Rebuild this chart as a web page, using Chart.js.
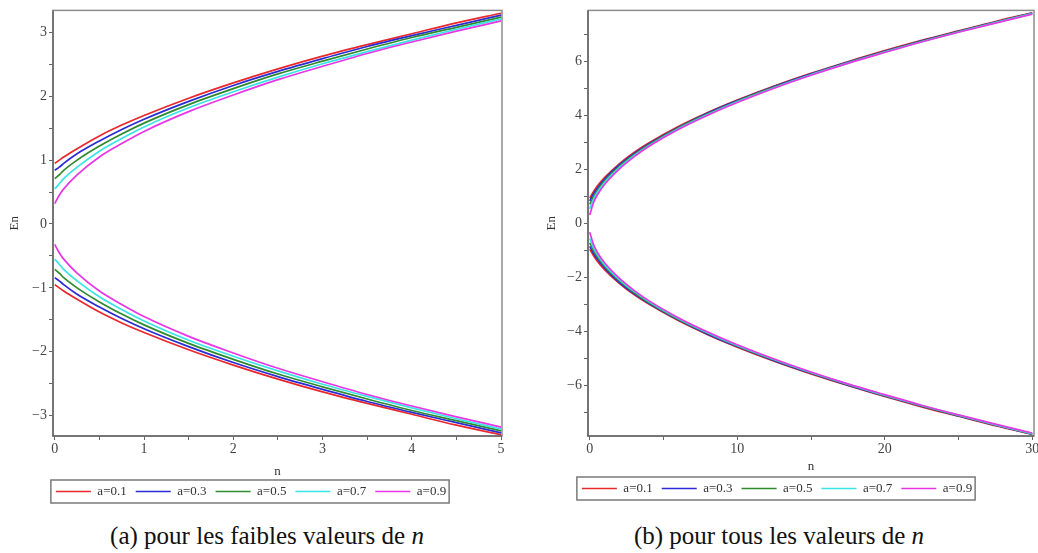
<!DOCTYPE html>
<html>
<head>
<meta charset="utf-8">
<title>En en fonction de n</title>
<script src="https://cdn.jsdelivr.net/npm/chart.js@4.4.1/dist/chart.umd.min.js"></script>
<style>
  html, body { margin: 0; padding: 0; background: #fff; overflow: hidden; }
  #page { position: relative; width: 1038px; height: 553px; overflow: hidden; }
  .panel { position: absolute; top: 0; }
  #boxA { left: 0; }
  #boxB { left: 520px; }
  .caption {
    position: absolute; top: 522px; transform: translateX(-50%);
    font-family: 'Liberation Serif', serif; font-size: 25px; color: #111; white-space: nowrap;
  }
  .caption i { font-style: italic; }
</style>
</head>
<body>
<div id="page">
  <div class="panel" id="boxA"><canvas id="chartA" width="520" height="512"></canvas></div>
  <div class="panel" id="boxB"><canvas id="chartB" width="530" height="512"></canvas></div>
  <div class="caption" style="left:267px">(a) pour les faibles valeurs de <i>n</i></div>
  <div class="caption" style="left:779px">(b) pour tous les valeurs de <i>n</i></div>
</div>
<script>
// legend entries and their colours
const aLabels = ['a=0.1', 'a=0.3', 'a=0.5', 'a=0.7', 'a=0.9'];
const lineColors = ['#e8282c', '#2b2bd6', '#2f8a2f', '#38e4e4', '#e636e6'];

// --- panel (a): small n ---
const nSmall = [0, 0.05, 0.1, 0.25, 0.5, 0.75, 1, 1.5, 2, 2.5, 3, 3.5, 4, 4.5, 5];
const smallUp01 = [0.95, 1.00, 1.05, 1.18, 1.38, 1.55, 1.70, 1.97, 2.21, 2.43, 2.63, 2.81, 2.98, 3.15, 3.30];
const smallUp03 = [0.84, 0.89, 0.95, 1.10, 1.30, 1.48, 1.64, 1.92, 2.17, 2.39, 2.59, 2.78, 2.95, 3.11, 3.27];
const smallUp05 = [0.71, 0.77, 0.84, 1.00, 1.22, 1.41, 1.58, 1.87, 2.12, 2.35, 2.55, 2.74, 2.92, 3.08, 3.24];
const smallUp07 = [0.55, 0.63, 0.71, 0.89, 1.14, 1.34, 1.52, 1.82, 2.07, 2.30, 2.51, 2.70, 2.88, 3.05, 3.21];
const smallUp09 = [0.32, 0.45, 0.55, 0.77, 1.05, 1.26, 1.45, 1.76, 2.02, 2.26, 2.47, 2.67, 2.85, 3.02, 3.18];
const smallLo01 = [-0.95, -1.00, -1.05, -1.18, -1.38, -1.55, -1.70, -1.97, -2.21, -2.43, -2.63, -2.81, -2.98, -3.15, -3.30];
const smallLo03 = [-0.84, -0.89, -0.95, -1.10, -1.30, -1.48, -1.64, -1.92, -2.17, -2.39, -2.59, -2.78, -2.95, -3.11, -3.27];
const smallLo05 = [-0.71, -0.77, -0.84, -1.00, -1.22, -1.41, -1.58, -1.87, -2.12, -2.35, -2.55, -2.74, -2.92, -3.08, -3.24];
const smallLo07 = [-0.55, -0.63, -0.71, -0.89, -1.14, -1.34, -1.52, -1.82, -2.07, -2.30, -2.51, -2.70, -2.88, -3.05, -3.21];
const smallLo09 = [-0.32, -0.45, -0.55, -0.77, -1.05, -1.26, -1.45, -1.76, -2.02, -2.26, -2.47, -2.67, -2.85, -3.02, -3.18];
const smallXTicks = [0, 0.5, 1, 1.5, 2, 2.5, 3, 3.5, 4, 4.5, 5];
const smallYTicks = [-3, -2.5, -2, -1.5, -1, -0.5, 0, 0.5, 1, 1.5, 2, 2.5, 3];

// --- panel (b): all n ---
const nAll = [0, 0.25, 0.5, 1, 2, 3, 4, 6, 8, 10, 12.5, 15, 17.5, 20, 22.5, 25, 27.5, 30];
const allUp01 = [0.95, 1.18, 1.38, 1.70, 2.21, 2.63, 2.98, 3.59, 4.11, 4.57, 5.09, 5.56, 5.99, 6.40, 6.78, 7.13, 7.48, 7.80];
const allUp03 = [0.84, 1.10, 1.30, 1.64, 2.17, 2.59, 2.95, 3.56, 4.09, 4.55, 5.07, 5.54, 5.98, 6.38, 6.76, 7.12, 7.46, 7.79];
const allUp05 = [0.71, 1.00, 1.22, 1.58, 2.12, 2.55, 2.92, 3.54, 4.06, 4.53, 5.05, 5.52, 5.96, 6.36, 6.75, 7.11, 7.45, 7.78];
const allUp07 = [0.55, 0.89, 1.14, 1.52, 2.07, 2.51, 2.88, 3.51, 4.04, 4.51, 5.03, 5.51, 5.94, 6.35, 6.73, 7.09, 7.44, 7.77];
const allUp09 = [0.32, 0.77, 1.05, 1.45, 2.02, 2.47, 2.85, 3.48, 4.01, 4.48, 5.01, 5.49, 5.93, 6.33, 6.72, 7.08, 7.42, 7.75];
const allLo01 = [-0.95, -1.18, -1.38, -1.70, -2.21, -2.63, -2.98, -3.59, -4.11, -4.57, -5.09, -5.56, -5.99, -6.40, -6.78, -7.13, -7.48, -7.80];
const allLo03 = [-0.84, -1.10, -1.30, -1.64, -2.17, -2.59, -2.95, -3.56, -4.09, -4.55, -5.07, -5.54, -5.98, -6.38, -6.76, -7.12, -7.46, -7.79];
const allLo05 = [-0.71, -1.00, -1.22, -1.58, -2.12, -2.55, -2.92, -3.54, -4.06, -4.53, -5.05, -5.52, -5.96, -6.36, -6.75, -7.11, -7.45, -7.78];
const allLo07 = [-0.55, -0.89, -1.14, -1.52, -2.07, -2.51, -2.88, -3.51, -4.04, -4.51, -5.03, -5.51, -5.94, -6.35, -6.73, -7.09, -7.44, -7.77];
const allLo09 = [-0.32, -0.77, -1.05, -1.45, -2.02, -2.47, -2.85, -3.48, -4.01, -4.48, -5.01, -5.49, -5.93, -6.33, -6.72, -7.08, -7.42, -7.75];
const allXTicks = [0, 5, 10, 15, 20, 25, 30];
const allYTicks = [-7, -6, -5, -4, -3, -2, -1, 0, 1, 2, 3, 4, 5, 6, 7];

const FONT = "'Liberation Serif', 'Times New Roman', serif";
const LINE_W = 1.7;

// box around the plot area, with darker left/bottom axes
const framePlugin = {
    id: 'frame',
    beforeDatasetsDraw(chart) {
        const { ctx, chartArea: a } = chart;
        ctx.save();
        ctx.lineWidth = 1.5;
        ctx.strokeStyle = '#8c8c8c';
        ctx.strokeRect(a.left, a.top, a.right - a.left, a.bottom - a.top);
        ctx.strokeStyle = '#666';
        ctx.beginPath();
        ctx.moveTo(a.left, a.top);
        ctx.lineTo(a.left, a.bottom);
        ctx.lineTo(a.right, a.bottom);
        ctx.stroke();
        ctx.restore();
    }
};

// rectangle around the legend items
const legendBoxPlugin = {
    id: 'legendBox',
    afterDraw(chart) {
        const boxes = chart.legend && chart.legend.legendHitBoxes;
        if (!boxes || !boxes.length) return;
        const left = Math.min(...boxes.map(b => b.left));
        const right = Math.max(...boxes.map(b => b.left + b.width));
        const top = Math.min(...boxes.map(b => b.top));
        const bottom = Math.max(...boxes.map(b => b.top + b.height));
        const ctx = chart.ctx;
        ctx.save();
        ctx.lineWidth = 1.5;
        ctx.strokeStyle = '#7a7a7a';
        ctx.strokeRect(left - 5, top - 5, right - left + 8, bottom - top + 10);
        ctx.restore();
    }
};

function tickFormatter(step) {
    return v => {
        if (Math.abs(v / step - Math.round(v / step)) > 1e-9) return '';
        return v < 0 ? '\u2212' + Math.abs(v) : String(v);
    };
}

function buildPanel(canvasId, p) {
    const datasets = [];
    const addBranch = (branch) => branch.forEach((vals, i) => {
        datasets.push({
            label: aLabels[i],
            data: p.n.map((x, k) => ({ x: x, y: vals[k] })),
            borderColor: lineColors[i],
            backgroundColor: lineColors[i],
            pointBorderColor: lineColors[i],
            pointBackgroundColor: lineColors[i],
            pointBorderWidth: LINE_W,
            order: 4 - i          // a=0.9 ends up drawn on top
        });
    });
    addBranch(p.upper);
    addBranch(p.lower);

    const tickFont = { family: FONT, size: 14 };

    return new Chart(document.getElementById(canvasId), {
        type: 'line',
        data: { datasets: datasets },
        options: {
            responsive: false,
            animation: false,
            devicePixelRatio: 1,
            layout: { padding: { top: p.padTop, right: p.padRight, left: 0, bottom: p.padBottom } },
            elements: {
                point: { radius: 0, hoverRadius: 0 },
                line: { borderWidth: LINE_W, fill: false, cubicInterpolationMode: 'monotone' }
            },
            plugins: {
                tooltip: { enabled: false },
                legend: {
                    position: 'bottom',
                    labels: {
                        filter: item => item.datasetIndex < 5,
                        sort: (a, b) => a.datasetIndex - b.datasetIndex,
                        usePointStyle: true,
                        pointStyle: 'line',
                        pointStyleWidth: 35,
                        padding: 9,
                        color: '#333',
                        font: { family: FONT, size: 13 }
                    }
                }
            },
            scales: {
                x: {
                    type: 'linear',
                    min: p.xMin,
                    max: p.xMax,
                    afterFit: s => { s.height = p.xAxisHeight; },
                    afterBuildTicks: s => { s.ticks = p.xTicks.map(v => ({ value: v })); },
                    border: { display: false },
                    grid: { drawOnChartArea: false, drawTicks: true, tickLength: 4, color: '#666' },
                    ticks: {
                        autoSkip: false, maxRotation: 0, padding: 1,
                        color: '#444', font: tickFont,
                        callback: tickFormatter(p.xLabelStep)
                    },
                    title: {
                        display: true, text: 'n', color: '#333',
                        font: { family: FONT, size: 13 },
                        padding: { top: 0, bottom: p.xTitlePad }
                    }
                },
                y: {
                    type: 'linear',
                    min: p.yMin,
                    max: p.yMax,
                    afterFit: s => { s.width = p.yAxisWidth; },
                    afterBuildTicks: s => { s.ticks = p.yTicks.map(v => ({ value: v })); },
                    border: { display: false },
                    grid: { drawOnChartArea: false, drawTicks: true, tickLength: 4, color: '#666' },
                    ticks: {
                        autoSkip: false, padding: 2,
                        color: '#444', font: tickFont,
                        callback: tickFormatter(p.yLabelStep)
                    },
                    title: {
                        display: true, text: 'En', color: '#333',
                        font: { family: FONT, size: 13 },
                        padding: { top: p.yTitlePad, bottom: 0 }
                    }
                }
            }
        },
        plugins: [framePlugin, legendBoxPlugin]
    });
}

buildPanel('chartA', {
    n: nSmall,
    upper: [smallUp01, smallUp03, smallUp05, smallUp07, smallUp09],
    lower: [smallLo01, smallLo03, smallLo05, smallLo07, smallLo09],
    xTicks: smallXTicks, yTicks: smallYTicks,
    xLabelStep: 1, yLabelStep: 1,
    xMin: -0.02, xMax: 5.01, yMin: -3.32, yMax: 3.345,
    padTop: 3, padRight: 18, padBottom: 4,
    yAxisWidth: 53, xAxisHeight: 40,
    yTitlePad: 7, xTitlePad: -3
});

buildPanel('chartB', {
    n: nAll,
    upper: [allUp01, allUp03, allUp05, allUp07, allUp09],
    lower: [allLo01, allLo03, allLo05, allLo07, allLo09],
    xTicks: allXTicks, yTicks: allYTicks,
    xLabelStep: 10, yLabelStep: 2,
    xMin: -0.12, xMax: 30.12, yMin: -7.86, yMax: 7.89,
    padTop: 2, padRight: 16, padBottom: 7,
    yAxisWidth: 68, xAxisHeight: 37,
    yTitlePad: 24, xTitlePad: -1
});
</script>
</body>
</html>
